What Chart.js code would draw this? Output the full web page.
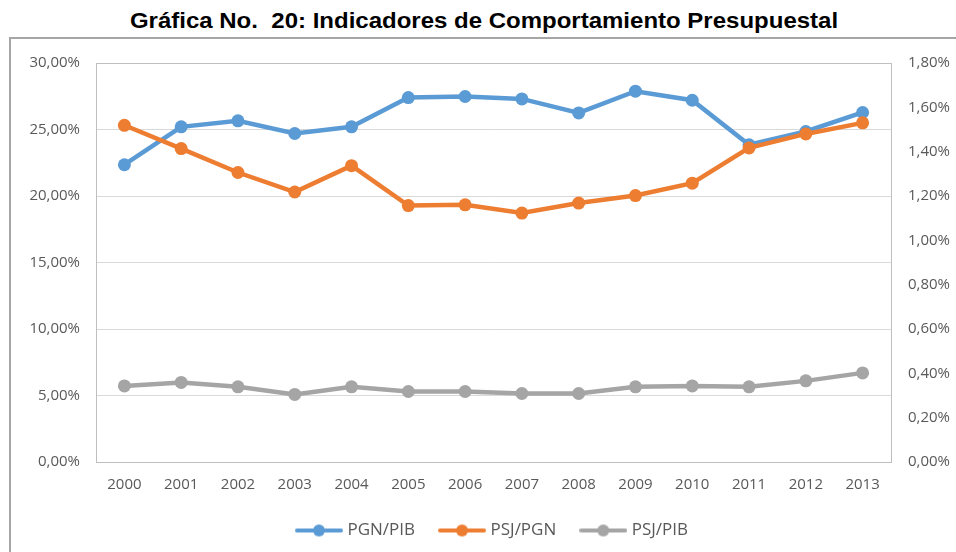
<!DOCTYPE html>
<html>
<head>
<meta charset="utf-8">
<script src="https://cdn.jsdelivr.net/npm/chart.js@4"></script>
<style>
  html, body { margin: 0; padding: 0; background: #fff; }
  #wrap { position: relative; width: 956px; height: 552px; overflow: hidden; }
  #title {
    position: absolute; left: 0; top: 8px; width: 968px; text-align: center;
    font: bold 24px "Liberation Sans", Arial, sans-serif; color: #000;
    transform: scaleY(0.92); transform-origin: center top;
  }
  #frame {
    position: absolute; left: 9px; top: 37px; width: 1200px; height: 800px;
    border-left: 2px solid #a6a6a6; border-top: 2px solid #a6a6a6;
  }
  #chart { position: absolute; left: 0; top: 0; }
</style>
</head>
<body>
<div id="wrap">
  <div id="title">Gráfica No.&nbsp; 20: Indicadores de Comportamiento Presupuestal</div>
  <div id="frame"></div>
  <canvas id="chart" width="956" height="552"></canvas>
</div>
<script>
// ─── Data ─────────────────────────────────────────────────────────────────────

const YEARS = ['2000','2001','2002','2003','2004','2005','2006','2007','2008','2009','2010','2011','2012','2013'];

// left axis (%)
const PGN_PIB = [22.35, 25.20, 25.65, 24.70, 25.20, 27.40, 27.48, 27.30, 26.25, 27.88, 27.20, 23.85, 24.85, 26.28];
// right axis (%)
const PSJ_PGN = [1.519, 1.414, 1.306, 1.218, 1.337, 1.157, 1.160, 1.123, 1.168, 1.202, 1.258, 1.417, 1.480, 1.530];
const PSJ_PIB = [0.343, 0.359, 0.339, 0.305, 0.339, 0.318, 0.318, 0.309, 0.309, 0.339, 0.343, 0.339, 0.366, 0.402];

const LEFT_TICKS  = { min: 0, max: 30, step: 5 };
const RIGHT_TICKS = { min: 0, max: 1.8, step: 0.2 };

const COLORS = { blue: '#5b9bd5', orange: '#ed7d31', gray: '#a5a5a5' };

// ─── Helpers ─────────────────────────────────────────────────────────────────

function pct(v) {
  return v.toFixed(2).replace('.', ',') + '%';
}

// small line+marker icon for the legend
function legendIcon(color) {
  const c = document.createElement('canvas');
  c.width = 48; c.height = 14;
  const g = c.getContext('2d');
  g.strokeStyle = color;
  g.lineWidth = 4;
  g.lineCap = 'round';
  g.beginPath(); g.moveTo(2, 7); g.lineTo(46, 7); g.stroke();
  g.fillStyle = color;
  g.beginPath(); g.arc(24, 7, 6, 0, Math.PI * 2); g.fill();
  return c;
}

const ICONS = [legendIcon(COLORS.blue), legendIcon(COLORS.orange), legendIcon(COLORS.gray)];

// plot area frame
const plotFrame = {
  id: 'plotFrame',
  beforeDatasetsDraw(chart) {
    const { ctx, chartArea: a } = chart;
    ctx.save();
    ctx.strokeStyle = '#bfbfbf';
    ctx.lineWidth = 1;
    ctx.strokeRect(Math.round(a.left) + 0.5, Math.round(a.top) + 0.5,
                   Math.round(a.right - a.left), Math.round(a.bottom - a.top));
    ctx.restore();
  }
};

function series(label, data, color, axis, order) {
  return {
    label, data, yAxisID: axis, order,
    borderColor: color, backgroundColor: color,
    borderWidth: 4.5,
    pointRadius: 6.5, pointHoverRadius: 6.5,
    pointBackgroundColor: color, pointBorderColor: color, pointBorderWidth: 0,
    tension: 0
  };
}

// ─── Chart ───────────────────────────────────────────────────────────────────

const tickFont = { family: '"Open Sans", sans-serif', size: 15 };

new Chart(document.getElementById('chart'), {
  type: 'line',
  data: {
    labels: YEARS,
    datasets: [
      series('PGN/PIB', PGN_PIB, COLORS.blue, 'yL', 3),
      series('PSJ/PGN', PSJ_PGN, COLORS.orange, 'yR', 2),
      series('PSJ/PIB', PSJ_PIB, COLORS.gray, 'yR', 1)
    ]
  },
  options: {
    responsive: false,
    devicePixelRatio: 1,
    animation: false,
    layout: { padding: { top: 63, left: 0, right: 0, bottom: 3 } },
    plugins: {
      title: { display: false },
      tooltip: { enabled: false },
      legend: {
        position: 'bottom',
        fullSize: false,
        labels: {
          usePointStyle: true,
          pointStyleWidth: 40,
          padding: 27,
          color: '#595959',
          font: { family: '"Open Sans", sans-serif', size: 17 },
          sort: (a, b) => a.datasetIndex - b.datasetIndex,
          generateLabels(chart) {
            return Chart.defaults.plugins.legend.labels.generateLabels(chart).map(item => {
              item.pointStyle = ICONS[item.datasetIndex];
              return item;
            });
          }
        }
      }
    },
    scales: {
      x: {
        offset: true,
        grid: { display: false, drawTicks: false },
        border: { display: false },
        ticks: { color: '#595959', font: tickFont, padding: 14, maxRotation: 0 },
        afterFit: s => { s.height = 33; }
      },
      yL: {
        position: 'left',
        min: LEFT_TICKS.min, max: LEFT_TICKS.max,
        grid: { color: '#d9d9d9', drawTicks: false },
        border: { display: false },
        ticks: { stepSize: LEFT_TICKS.step, color: '#595959', font: tickFont, padding: 16, callback: v => pct(v) },
        afterFit: s => { s.width = 96; }
      },
      yR: {
        position: 'right',
        min: RIGHT_TICKS.min, max: RIGHT_TICKS.max,
        grid: { display: false, drawTicks: false },
        border: { display: false },
        ticks: { stepSize: RIGHT_TICKS.step, color: '#595959', font: tickFont, padding: 17, callback: v => pct(v) },
        afterFit: s => { s.width = 65; }
      }
    }
  },
  plugins: [plotFrame]
});
</script>
</body>
</html>
